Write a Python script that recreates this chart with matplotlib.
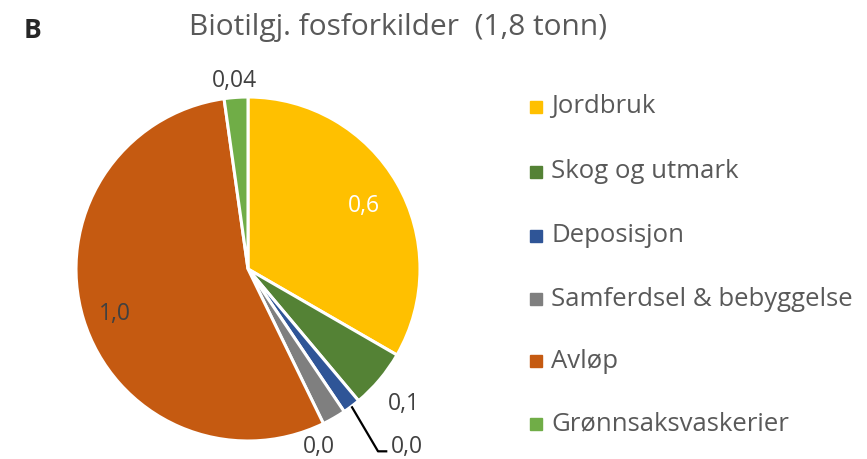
import matplotlib
matplotlib.use("Agg")
import matplotlib.pyplot as plt
import numpy as np
from matplotlib.patches import Rectangle

categories = ["Jordbruk", "Skog og utmark", "Deposisjon",
              "Samferdsel & bebyggelse", "Avløp", "Grønnsaksvaskerier"]
values = [0.6, 0.1, 0.03, 0.04, 0.99, 0.04]
value_labels = ["0,6", "0,1", "0,0", "0,0", "1,0", "0,04"]
colors = ["#FFC000", "#548235", "#2F5597", "#7F7F7F", "#C55A11", "#70AD47"]
title = "Biotilgj. fosforkilder  (1,8 tonn)"
panel = "B"

plt.rcParams['font.family'] = ['Open Sans', 'DejaVu Sans']

W, H = 867, 460
fig = plt.figure(figsize=(W / 100, H / 100), dpi=100)

# pie placement in pixels
cx, cy, R = 248, 270, 172
k = 1.45
w = 2 * R * k
ax = fig.add_axes([(cx - R * k) / W, (H - cy - R * k) / H, w / W, w / H])
ax.axis('off')

wedges, _ = ax.pie(values, colors=colors, startangle=90, counterclock=False,
                   radius=1.0, wedgeprops=dict(edgecolor='white', linewidth=2.2))
ax.set_xlim(-k, k)
ax.set_ylim(-k, k)
ax.set_aspect('equal', adjustable='datalim')

label_r = [0.78, 1.18, None, 1.10, 0.81, 1.12]
label_off = [(0, 0), (0, 0), (0, 0), (-0.14, -0.055), (0, 0), (0, 0)]
label_col = ["white", "#404040", "#404040", "#404040", "#404040", "#404040"]
fs_lab = 16.5
for i, wd in enumerate(wedges):
    mid = np.deg2rad((wd.theta1 + wd.theta2) / 2)
    if label_r[i] is None:
        # leader line label
        sx, sy = 1.0 * np.cos(mid), 1.0 * np.sin(mid)
        bx, by = 0.756, -1.06
        ex = 0.81
        ax.plot([sx, bx, ex], [sy, by, by], color='black', lw=1.6,
                clip_on=False, solid_capstyle='butt')
        ax.text(ex + 0.02, by + 0.03, value_labels[i], ha='left', va='center',
                fontsize=fs_lab, color=label_col[i], clip_on=False)
        continue
    r = label_r[i]
    ox, oy = label_off[i]
    ax.text(r * np.cos(mid) + ox, r * np.sin(mid) - 0.02 + oy, value_labels[i],
            ha='center', va='center', fontsize=fs_lab, color=label_col[i],
            clip_on=False)

fig.text(398 / W, 1 - 28 / H, title, ha='center', va='center',
         fontsize=21.5, color='#595959')
fig.text(33 / W, 1 - 30 / H, panel, ha='center', va='center',
         fontsize=19, fontweight='bold', color='#262626')

# legend
ys = [108, 173, 237, 300, 362, 425]
for cat, col, y in zip(categories, colors, ys):
    s = 12.5
    fig.add_artist(Rectangle(((529.5) / W, (H - y - s / 2) / H), s / W, s / H,
                             transform=fig.transFigure, color=col))
    fig.text(551 / W, 1 - (y - 1) / H, cat, ha='left', va='center',
             fontsize=18.5, color='#595959')

fig.savefig("out.png", dpi=100, facecolor='white')
